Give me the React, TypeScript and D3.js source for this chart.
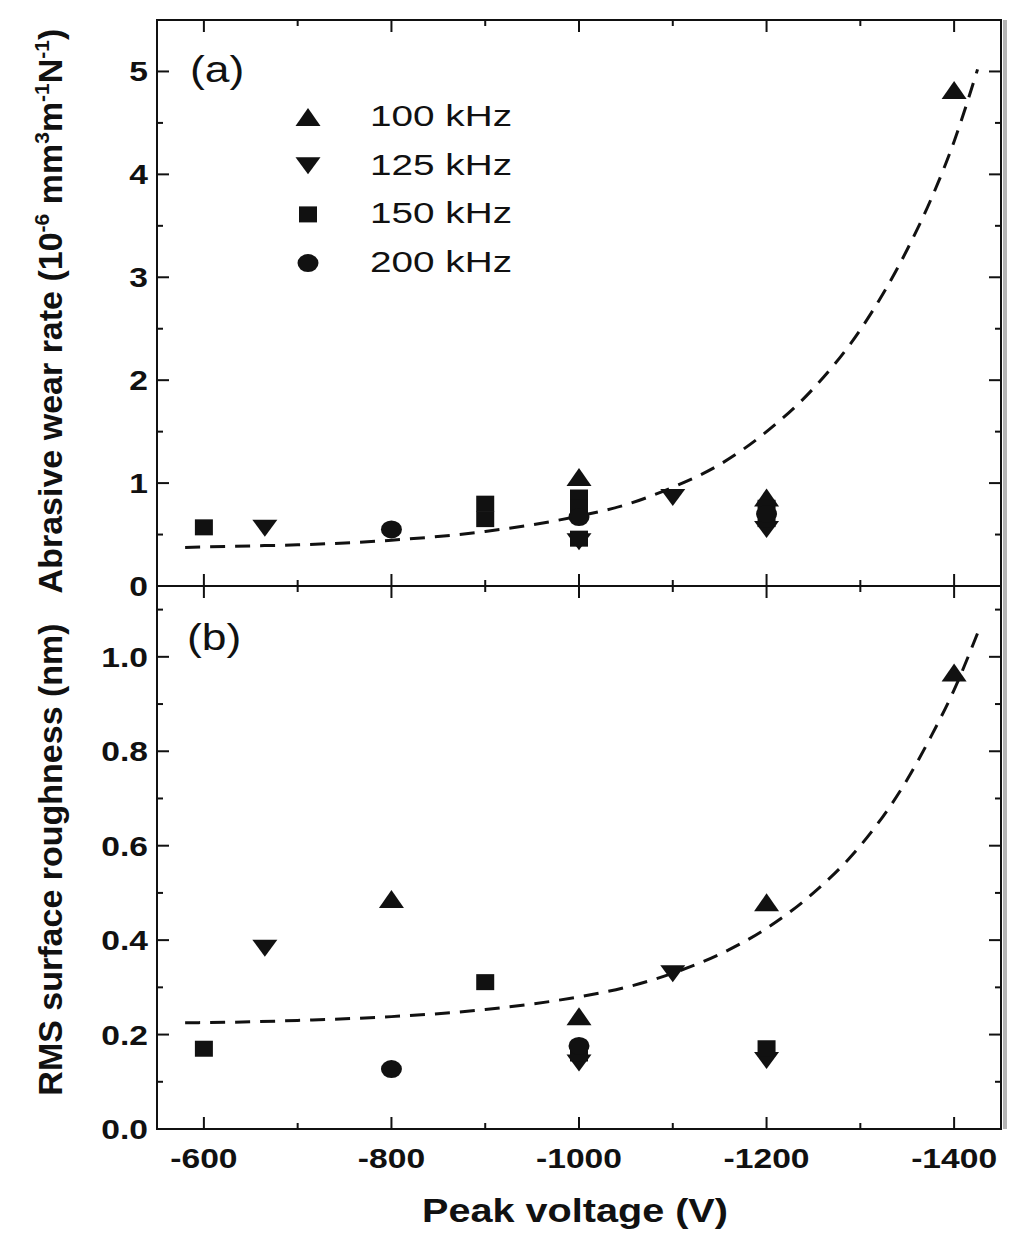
import React from 'react';
import * as d3 from 'd3';

// ---------- data ----------
const xMajorTicks = [-600, -800, -1000, -1200, -1400];
const xMinorTicks = [-700, -900, -1100, -1300];
const wearMajorTicks = [0, 1, 2, 3, 4, 5];
const wearMinorTicks = [0.5, 1.5, 2.5, 3.5, 4.5];
const roughMajorTicks = [0, 0.2, 0.4, 0.6, 0.8, 1.0];
const roughMinorTicks = [0.1, 0.3, 0.5, 0.7, 0.9, 1.1];

const legendLabels = ['100 kHz', '125 kHz', '150 kHz', '200 kHz'];
const legendShapes = ['up', 'down', 'square', 'circle'];

// Abrasive wear rate (10^-6 mm3 m-1 N-1): [peak voltage, value]
const wear100: [number, number][] = [[-1000, 1.06], [-1200, 0.86], [-1400, 4.82]];
const wear125: [number, number][] = [[-665, 0.56], [-1000, 0.43], [-1100, 0.86], [-1200, 0.55]];
const wear150: [number, number][] = [[-600, 0.57], [-900, 0.80], [-900, 0.65], [-1000, 0.86], [-1000, 0.76], [-1000, 0.46], [-1200, 0.76], [-1200, 0.65]];
const wear200: [number, number][] = [[-800, 0.55], [-1000, 0.67], [-1200, 0.70]];

// RMS surface roughness (nm)
const rough100: [number, number][] = [[-800, 0.487], [-1000, 0.239], [-1200, 0.48], [-1400, 0.967]];
const rough125: [number, number][] = [[-665, 0.383], [-1000, 0.14], [-1100, 0.329], [-1200, 0.145]];
const rough150: [number, number][] = [[-600, 0.17], [-900, 0.311], [-1000, 0.16], [-1200, 0.171]];
const rough200: [number, number][] = [[-800, 0.127], [-1000, 0.176]];

// dashed trend curves
const wearFit: [number, number][] = [
  [-580, 0.375], [-650, 0.39], [-700, 0.40], [-800, 0.445], [-900, 0.53], [-1000, 0.68],
  [-1050, 0.79], [-1100, 0.96], [-1150, 1.18], [-1200, 1.50], [-1250, 1.92], [-1300, 2.49],
  [-1350, 3.27], [-1375, 3.75], [-1400, 4.32], [-1425, 5.02],
];
const roughFit: [number, number][] = [
  [-580, 0.225], [-650, 0.227], [-700, 0.230], [-800, 0.238], [-900, 0.253], [-1000, 0.28],
  [-1050, 0.30], [-1100, 0.33], [-1150, 0.37], [-1200, 0.425], [-1250, 0.50], [-1300, 0.60],
  [-1350, 0.74], [-1375, 0.83], [-1400, 0.93], [-1425, 1.05],
];

// ---------- layout ----------
const W = 1024, H = 1245;
const L = 157, R = 1001, T = 20, MID = 586, B = 1129;
const FONT = '"Liberation Sans", Arial, Helvetica, sans-serif';
const INK = '#111';
const SX = 1.2;

const x = d3.scaleLinear().domain([-550, -1450]).range([L, R]);
const yWear = d3.scaleLinear().domain([0, 5.5]).range([MID, T]);
const yRough = d3.scaleLinear().domain([0, 1.15]).range([B, MID]);

function Marker({ shape, cx, cy }: { shape: string; cx: number; cy: number }) {
  if (shape === 'up') return <path d={`M${cx},${cy - 9}L${cx + 12.5},${cy + 9}L${cx - 12.5},${cy + 9}Z`} fill={INK} />;
  if (shape === 'down') return <path d={`M${cx},${cy + 8.5}L${cx + 12.5},${cy - 8.5}L${cx - 12.5},${cy - 8.5}Z`} fill={INK} />;
  if (shape === 'square') return <rect x={cx - 9} y={cy - 8} width={18} height={16} fill={INK} />;
  return <ellipse cx={cx} cy={cy} rx={10.5} ry={9} fill={INK} />;
}

function SText({ x: tx, y: ty, anchor = 'start', size, weight = 'bold', sx = SX, children, len }: any) {
  return (
    <text transform={`translate(${tx},${ty}) scale(${sx},1)`} textAnchor={anchor} fontSize={size}
      fontWeight={weight} fontFamily={FONT} fill={INK}
      {...(len ? { textLength: len / sx, lengthAdjust: 'spacingAndGlyphs' } : {})}>
      {children}
    </text>
  );
}

function Panel({ y, major, minor, majorLen = 12, minorLen = 6, top, bottom, fmt }: any) {
  const els: any[] = [];
  major.forEach((t: number, i: number) => {
    const py = y(t);
    els.push(<line key={'lm' + i} x1={L} x2={L + majorLen} y1={py} y2={py} stroke={INK} strokeWidth={2} />);
    els.push(<line key={'rm' + i} x1={R} x2={R - majorLen} y1={py} y2={py} stroke={INK} strokeWidth={2} />);
    els.push(<SText key={'lab' + i} x={148} y={py + 10} anchor="end" size={28}>{fmt(t)}</SText>);
  });
  minor.forEach((t: number, i: number) => {
    const py = y(t);
    els.push(<line key={'ln' + i} x1={L} x2={L + minorLen} y1={py} y2={py} stroke={INK} strokeWidth={2} />);
    els.push(<line key={'rn' + i} x1={R} x2={R - minorLen} y1={py} y2={py} stroke={INK} strokeWidth={2} />);
  });
  xMajorTicks.forEach((t, i) => {
    const px = x(t);
    els.push(<line key={'tm' + i} x1={px} x2={px} y1={top} y2={top + 12} stroke={INK} strokeWidth={2} />);
    els.push(<line key={'bm' + i} x1={px} x2={px} y1={bottom} y2={bottom - 12} stroke={INK} strokeWidth={2} />);
  });
  xMinorTicks.forEach((t, i) => {
    const px = x(t);
    els.push(<line key={'tn' + i} x1={px} x2={px} y1={top} y2={top + 6} stroke={INK} strokeWidth={2} />);
    els.push(<line key={'bn' + i} x1={px} x2={px} y1={bottom} y2={bottom - 6} stroke={INK} strokeWidth={2} />);
  });
  return <g>{els}</g>;
}

export default function App() {
  const wearLine = d3.line<[number, number]>().x(d => x(d[0])).y(d => yWear(d[1])).curve(d3.curveMonotoneX);
  const roughLine = d3.line<[number, number]>().x(d => x(d[0])).y(d => yRough(d[1])).curve(d3.curveMonotoneX);

  const wearSeries = [wear100, wear125, wear150, wear200];
  const roughSeries = [rough100, rough125, rough150, rough200];

  return (
    <svg width={W} height={H} style={{ position: 'absolute', left: 0, top: 0, background: '#fff' }}>
      <rect x={0} y={0} width={W} height={H} fill="#fff" />
      {/* gray shadow at right edge */}
      <line x1={R + 4} x2={R + 4} y1={T} y2={B} stroke="#b5b5b5" strokeWidth={4} />

      {/* panels */}
      <Panel y={yWear} major={wearMajorTicks} minor={wearMinorTicks} top={T} bottom={MID} fmt={(v: number) => String(v)} />
      <Panel y={yRough} major={roughMajorTicks} minor={roughMinorTicks} top={MID} bottom={B} fmt={(v: number) => v.toFixed(1)} />

      {/* frames */}
      <rect x={L} y={T} width={R - L} height={MID - T} fill="none" stroke={INK} strokeWidth={2} />
      <rect x={L} y={MID} width={R - L} height={B - MID} fill="none" stroke={INK} strokeWidth={2} />

      {/* fit curves */}
      <path d={wearLine(wearFit) || ''} fill="none" stroke={INK} strokeWidth={3} strokeDasharray="15 10" />
      <path d={roughLine(roughFit) || ''} fill="none" stroke={INK} strokeWidth={3} strokeDasharray="15 10" />

      {/* markers */}
      {wearSeries.map((s, si) => s.map((d, i) => (
        <Marker key={`w${si}-${i}`} shape={legendShapes[si]} cx={x(d[0])} cy={yWear(d[1])} />
      )))}
      {roughSeries.map((s, si) => s.map((d, i) => (
        <Marker key={`r${si}-${i}`} shape={legendShapes[si]} cx={x(d[0])} cy={yRough(d[1])} />
      )))}

      {/* legend */}
      {legendLabels.map((lab, i) => {
        const by = 126 + i * 48.7;
        return (
          <g key={lab}>
            <Marker shape={legendShapes[i]} cx={308} cy={by - 9} />
            <SText x={370} y={by} size={30} weight="normal" len={142}>{lab}</SText>
          </g>
        );
      })}

      {/* panel labels */}
      <SText x={190} y={82} size={37} weight="normal">(a)</SText>
      <SText x={187} y={650} size={37} weight="normal">(b)</SText>

      {/* x tick labels */}
      {xMajorTicks.map(t => (
        <SText key={t} x={x(t)} y={1168} anchor="middle" size={28}>{String(t)}</SText>
      ))}

      {/* axis titles */}
      <SText x={575} y={1222} anchor="middle" size={33}>Peak voltage (V)</SText>

      <text transform={`translate(62,${(T + MID) / 2 + 8}) rotate(-90)`} textAnchor="middle" fontSize={34}
        fontWeight="bold" fontFamily={FONT} fill={INK}>
        Abrasive wear rate (10<tspan fontSize={21} dy={-13}>-6</tspan>
        <tspan dy={13}> mm</tspan><tspan fontSize={21} dy={-13}>3</tspan>
        <tspan dy={13}>m</tspan><tspan fontSize={21} dy={-13}>-1</tspan>
        <tspan dy={13}>N</tspan><tspan fontSize={21} dy={-13}>-1</tspan>
        <tspan dy={13}>)</tspan>
      </text>
      <text transform={`translate(62,${(MID + B) / 2 + 2}) rotate(-90)`} textAnchor="middle" fontSize={34}
        fontWeight="bold" fontFamily={FONT} fill={INK}>
        RMS surface roughness (nm)
      </text>
    </svg>
  );
}
